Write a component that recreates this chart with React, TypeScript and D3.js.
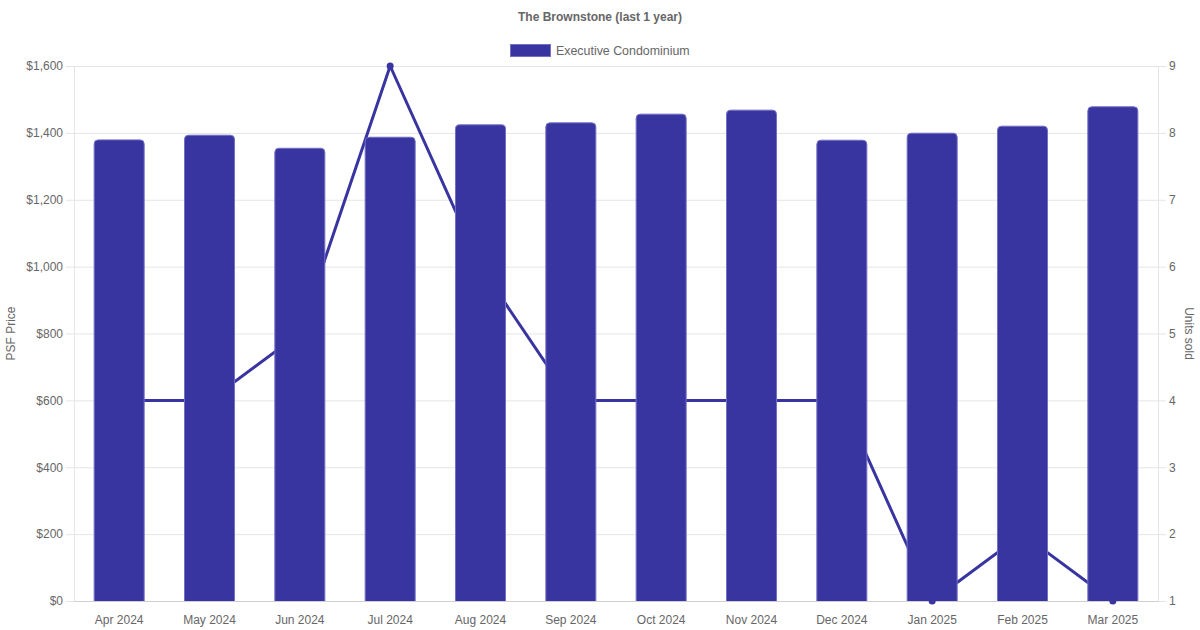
import React, { useEffect, useRef } from "react";
import * as d3 from "d3";

const months = [
  "Apr 2024", "May 2024", "Jun 2024", "Jul 2024", "Aug 2024", "Sep 2024",
  "Oct 2024", "Nov 2024", "Dec 2024", "Jan 2025", "Feb 2025", "Mar 2025",
];
const psfPrice = [1379, 1393, 1354, 1387, 1424, 1430, 1456, 1468, 1378, 1399, 1420, 1478];
const unitsSold = [4, 4, 5, 9, 6, 4, 4, 4, 4, 1, 2, 1];
const priceTicks = [0, 200, 400, 600, 800, 1000, 1200, 1400, 1600];
const unitTicks = [1, 2, 3, 4, 5, 6, 7, 8, 9];

const BarLineChart: React.FC = () => {
  const svgRef = useRef<SVGSVGElement | null>(null);

  useEffect(() => {
    const width = 1200;
    const height = 630;
    const margin = { top: 66, right: 42, bottom: 29, left: 74 };
    const font = "'Liberation Sans', Arial, Helvetica, sans-serif";
    const barColor = "#3834a0";
    const textColor = "#666";

    const svg = d3.select(svgRef.current);
    svg.selectAll("*").remove();
    svg.attr("width", width).attr("height", height).style("font-family", font);

    const x = d3
      .scaleBand()
      .domain(months)
      .range([margin.left, width - margin.right]);

    const y = d3
      .scaleLinear()
      .domain([0, 1600])
      .range([height - margin.bottom, margin.top]);

    const y2 = d3
      .scaleLinear()
      .domain([1, 9])
      .range([height - margin.bottom, margin.top]);

    // Y Axis Gridlines
    svg
      .append("g")
      .attr("transform", `translate(${margin.left},0)`)
      .call(
        d3.axisLeft(y)
          .tickValues(priceTicks)
          .tickSize(-(width - margin.left - margin.right))
          .tickFormat(() => "")
      )
      .call(g => g.select(".domain").remove())
      .call(g => g.selectAll("line").attr("stroke", "#e5e5e5"));

    // Y Axis Labels (left)
    svg
      .append("g")
      .attr("transform", `translate(${margin.left},0)`)
      .call(
        d3.axisLeft(y)
          .tickValues(priceTicks)
          .tickSize(8)
          .tickPadding(3)
          .tickFormat(d => `$${d3.format(",")(+d)}`)
      )
      .call(g => g.select(".domain").attr("stroke", "#e5e5e5"))
      .call(g => g.selectAll("line").attr("stroke", "#e5e5e5"))
      .call(g => g.selectAll("text").attr("fill", textColor).style("font-size", "12px").style("font-family", font));

    // Y Axis Labels (right)
    svg
      .append("g")
      .attr("transform", `translate(${width - margin.right},0)`)
      .call(
        d3.axisRight(y2)
          .tickValues(unitTicks)
          .tickSize(8)
          .tickPadding(3)
          .tickFormat(d3.format("d"))
      )
      .call(g => g.select(".domain").attr("stroke", "#e5e5e5"))
      .call(g => g.selectAll("line").attr("stroke", "#e5e5e5"))
      .call(g => g.selectAll("text").attr("fill", textColor).style("font-size", "12px").style("font-family", font));

    // X Axis
    svg
      .append("g")
      .attr("transform", `translate(0,${height - margin.bottom})`)
      .call(d3.axisBottom(x).tickSize(0).tickPadding(14))
      .call(g => g.select(".domain").attr("stroke", "#cfcfcf"))
      .call(g => g.selectAll("text").attr("fill", textColor).style("font-size", "12px").style("font-family", font));

    // Line (drawn under the bars)
    const line = d3
      .line<number>()
      .x((_, i) => x(months[i])! + x.bandwidth() / 2)
      .y(d => y2(d));

    svg
      .append("path")
      .datum(unitsSold)
      .attr("fill", "none")
      .attr("stroke", barColor)
      .attr("stroke-width", 3)
      .attr("stroke-linejoin", "round")
      .attr("d", line);

    svg
      .append("g")
      .selectAll("circle")
      .data(unitsSold)
      .join("circle")
      .attr("cx", (_, i) => x(months[i])! + x.bandwidth() / 2)
      .attr("cy", d => y2(d))
      .attr("r", 3.5)
      .attr("fill", barColor);

    // Bars
    const barW = 50;
    const r = 4;
    svg
      .append("g")
      .selectAll("path")
      .data(psfPrice)
      .join("path")
      .attr("d", (d, i) => {
        const x0 = x(months[i])! + x.bandwidth() / 2 - barW / 2;
        const x1 = x0 + barW;
        const yt = y(d);
        const yb = y(0);
        return `M${x0},${yb}V${yt + r}Q${x0},${yt} ${x0 + r},${yt}H${x1 - r}Q${x1},${yt} ${x1},${yt + r}V${yb}`;
      })
      .attr("fill", barColor)
      .attr("stroke", "#7370c4")
      .attr("stroke-width", 1);

    // Axis titles
    svg
      .append("text")
      .attr("transform", `translate(15,${(margin.top + height - margin.bottom) / 2}) rotate(-90)`)
      .attr("text-anchor", "middle")
      .attr("fill", textColor)
      .style("font-size", "12px")
      .text("PSF Price");

    svg
      .append("text")
      .attr("transform", `translate(1185,${(margin.top + height - margin.bottom) / 2}) rotate(90)`)
      .attr("text-anchor", "middle")
      .attr("fill", textColor)
      .style("font-size", "12px")
      .text("Units sold");

    // Title
    svg
      .append("text")
      .attr("x", width / 2)
      .attr("y", 21)
      .attr("text-anchor", "middle")
      .attr("fill", textColor)
      .style("font-size", "12px")
      .style("font-weight", "bold")
      .text("The Brownstone (last 1 year)");

    // Legend
    const legend = svg.append("g").attr("transform", "translate(510,44)");
    legend
      .append("rect")
      .attr("x", 0.5)
      .attr("y", 0.5)
      .attr("width", 40)
      .attr("height", 12)
      .attr("fill", barColor)
      .attr("stroke", "#7370c4");
    legend
      .append("text")
      .attr("x", 46)
      .attr("y", 10.5)
      .attr("fill", textColor)
      .style("font-size", "12.4px")
      .text("Executive Condominium");
  }, []);

  return <svg ref={svgRef} style={{ position: "absolute", left: 0, top: 0 }}></svg>;
};

export default function App() {
  return <BarLineChart />;
}
